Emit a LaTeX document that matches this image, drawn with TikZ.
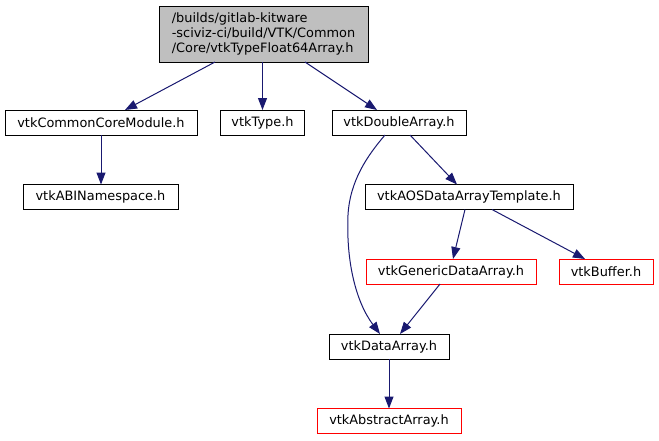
\documentclass[tikz,border=0pt]{standalone}
\usepackage{fontspec}
\setmainfont{DejaVu Sans}
\usetikzlibrary{arrows.meta}
\definecolor{edgeblue}{HTML}{191970}
\definecolor{rootgrey}{HTML}{BFBFBF}
\begin{document}
\begin{tikzpicture}[x=1pt,y=-1pt,
  every node/.style={font=\fontsize{12.9}{15}\selectfont, inner sep=0pt, outer sep=0pt},
  box/.style={draw=black, line width=1pt, fill=white, minimum height=25pt},
  redbox/.style={draw=red, line width=1pt, fill=white, minimum height=25pt},
  edge/.style={draw=edgeblue, line width=1pt, -{Triangle[length=12pt,width=9pt]}}]
\useasboundingbox (0,0) rectangle (659,440);
\node[box, fill=rootgrey, minimum width=209pt, minimum height=56pt, align=left] (root) at (263.5,34) {/builds/gitlab-kitware\\-sciviz-ci/build/VTK/Common\\/Core/vtkTypeFloat64Array.h};
\node[box, minimum width=192pt] (ccm) at (101,122.5) {vtkCommonCoreModule.h};
\node[box, minimum width=84pt] (type) at (262.5,122.5) {vtkType.h};
\node[box, minimum width=134pt] (dbl) at (399,122.5) {vtkDoubleArray.h};
\node[box, minimum width=155pt] (abi) at (100.5,197) {vtkABINamespace.h};
\node[box, minimum width=208pt] (aos) at (469,197) {vtkAOSDataArrayTemplate.h};
\node[redbox, minimum width=170pt] (gen) at (451,271.5) {vtkGenericDataArray.h};
\node[redbox, minimum width=94pt] (buf) at (606,271.5) {vtkBuffer.h};
\node[box, minimum width=120pt] (da) at (389,346.5) {vtkDataArray.h};
\node[redbox, minimum width=144pt] (aa) at (389,421) {vtkAbstractArray.h};
\draw[edge] ([xshift=-48.5pt]root.south) -- ([xshift=24pt]ccm.north);
\draw[edge] (root.south -| type.north) -- (type.north);
\draw[edge] ([xshift=41.5pt]root.south) -- ([xshift=-22pt]dbl.north);
\draw[edge] (ccm.south) -- (ccm.south |- abi.north);
\draw[edge] ([xshift=11pt]dbl.south) -- ([xshift=-12pt]aos.north);
\draw[edge] ([xshift=-14pt]dbl.south) .. controls (368,155) and (350,180) .. (348,215) .. controls (346,262) and (356,302) .. ([xshift=-9pt]da.north);
\draw[edge] ([xshift=-4pt]aos.south) -- ([xshift=2pt]gen.north);
\draw[edge] ([xshift=23pt]aos.south) -- ([xshift=-21pt]buf.north);
\draw[edge] ([xshift=-11pt]gen.south) -- ([xshift=11pt]da.north);
\draw[edge] (da.south) -- (aa.north);
\end{tikzpicture}
\end{document}
